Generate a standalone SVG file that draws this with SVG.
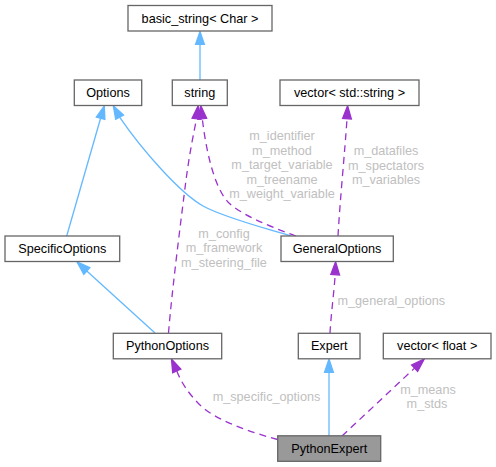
<svg xmlns="http://www.w3.org/2000/svg" width="496" height="467" viewBox="0 0 496 467">
<style>
.box{fill:#ffffff;stroke:#666666;stroke-width:1.3}
.cur{fill:#999999;stroke:#666666;stroke-width:1.3}
.nt{font-family:"Liberation Sans",Arial,sans-serif;font-size:12.67px;fill:#000000;text-anchor:middle}
.lbl{font-family:"Liberation Sans",Arial,sans-serif;font-size:12.67px;fill:#c0c0c0;text-anchor:middle}
.inh{fill:none;stroke:#63b8ff;stroke-width:1.3}
.use{fill:none;stroke:#9a32cd;stroke-width:1.3;stroke-dasharray:7,5}
.ah1{fill:#63b8ff;stroke:#63b8ff;stroke-width:1.3}
.ah2{fill:#9a32cd;stroke:#9a32cd;stroke-width:1.3}
</style>
<rect width="496" height="467" fill="#ffffff"/>
<g id="connectors">
  <!-- string -> basic_string -->
  <path class="inh" d="M200,80 L200,44.3"/>
  <polygon class="ah1" points="195.6,44.3 200,31.5 204.4,44.3"/>
  <!-- SpecificOptions -> Options -->
  <path class="inh" d="M66.7,236 L100.6,118.3"/>
  <polygon class="ah1" points="104.9,119.5 104.3,105.8 96.3,117.1"/>
  <!-- GeneralOptions -> Options -->
  <path class="inh" d="M291,236 C265,228 225,218 203,206 C180,193 142,150 119.6,117.2"/>
  <polygon class="ah1" points="123.5,115.1 113.3,105.8 115.7,119.3"/>
  <!-- GeneralOptions -> string -->
  <path class="use" d="M296,236 C268,226 240,214 228,202 C214,187 206,150 202.3,118.8"/>
  <polygon class="ah2" points="206.7,118.3 200.8,105.8 197.9,119.3"/>
  <!-- PythonOptions -> string -->
  <path class="use" d="M168.5,333 C172,290 181,220 186,180 C190,150 194,132 196.5,118.8"/>
  <polygon class="ah2" points="200.9,119.3 198.2,105.8 192.1,118.3"/>
  <!-- GeneralOptions -> vector<std::string> -->
  <path class="use" d="M338,236 C340,200 345,150 347,118.8"/>
  <polygon class="ah2" points="351.4,119.1 347.6,105.8 342.6,118.5"/>
  <!-- PythonOptions -> SpecificOptions -->
  <path class="inh" d="M155,333 L86.8,271"/>
  <polygon class="ah1" points="89.8,267.7 77,261.8 83.8,274.3"/>
  <!-- Expert -> GeneralOptions -->
  <path class="use" d="M330,333 C331,315 334,292 335.2,274.8"/>
  <polygon class="ah2" points="339.6,275.1 335.6,261.8 330.8,274.5"/>
  <!-- PythonExpert -> Expert -->
  <path class="inh" d="M329,436 L329,372.3"/>
  <polygon class="ah1" points="324.6,372.3 329,359 333.4,372.3"/>
  <!-- PythonExpert -> vector<float> -->
  <path class="use" d="M342,436 L414.6,368.1"/>
  <polygon class="ah2" points="417.6,371.4 424.3,359 411.6,364.9"/>
  <!-- PythonExpert -> PythonOptions -->
  <path class="use" d="M277.5,439.5 C250,432 215,420 200,405 C188,393 181,382 176.8,370.9"/>
  <polygon class="ah2" points="180.9,369.1 171.5,359 172.7,372.7"/>
  <!-- labels -->
  <text class="lbl" x="282" y="140">m_identifier</text>
  <text class="lbl" x="282" y="154.5">m_method</text>
  <text class="lbl" x="282" y="169">m_target_variable</text>
  <text class="lbl" x="282" y="183.5">m_treename</text>
  <text class="lbl" x="282" y="198">m_weight_variable</text>
  <text class="lbl" x="386" y="155">m_datafiles</text>
  <text class="lbl" x="386" y="169.5">m_spectators</text>
  <text class="lbl" x="386" y="184">m_variables</text>
  <text class="lbl" x="224" y="237.5">m_config</text>
  <text class="lbl" x="224" y="252">m_framework</text>
  <text class="lbl" x="224" y="266.5">m_steering_file</text>
  <text class="lbl" x="391.3" y="305">m_general_options</text>
  <text class="lbl" x="266.5" y="401">m_specific_options</text>
  <text class="lbl" x="428" y="393.5">m_means</text>
  <text class="lbl" x="427" y="408">m_stds</text>
</g>
<g id="basic_string_Char">
  <rect class="box" x="128" y="5.5" width="144" height="25.5"/>
  <text class="nt" x="200" y="22.5">basic_string&lt; Char &gt;</text>
</g>
<g id="Options">
  <rect class="box" x="74.3" y="80" width="67.4" height="25.5"/>
  <text class="nt" x="108" y="97">Options</text>
</g>
<g id="string">
  <rect class="box" x="172.3" y="80" width="55" height="25.5"/>
  <text class="nt" x="199.8" y="97">string</text>
</g>
<g id="vector_std_string">
  <rect class="box" x="280" y="80" width="139" height="25.5"/>
  <text class="nt" x="349.5" y="97">vector&lt; std::string &gt;</text>
</g>
<g id="SpecificOptions">
  <rect class="box" x="5" y="236" width="114.7" height="25.5"/>
  <text class="nt" x="62.3" y="253">SpecificOptions</text>
</g>
<g id="GeneralOptions">
  <rect class="box" x="281" y="236" width="112.3" height="25.5"/>
  <text class="nt" x="337" y="253">GeneralOptions</text>
</g>
<g id="PythonOptions">
  <rect class="box" x="113.3" y="333.3" width="108.4" height="25.5"/>
  <text class="nt" x="167.5" y="350.3">PythonOptions</text>
</g>
<g id="Expert">
  <rect class="box" x="298.3" y="333.3" width="61.7" height="25.5"/>
  <text class="nt" x="329.2" y="350.3">Expert</text>
</g>
<g id="vector_float">
  <rect class="box" x="383.3" y="333.3" width="107.7" height="25.5"/>
  <text class="nt" x="437.2" y="350.3">vector&lt; float &gt;</text>
</g>
<g id="PythonExpert">
  <rect class="cur" x="277.7" y="435.8" width="103" height="25.5"/>
  <text class="nt" x="329.2" y="452.8">PythonExpert</text>
</g>
</svg>
